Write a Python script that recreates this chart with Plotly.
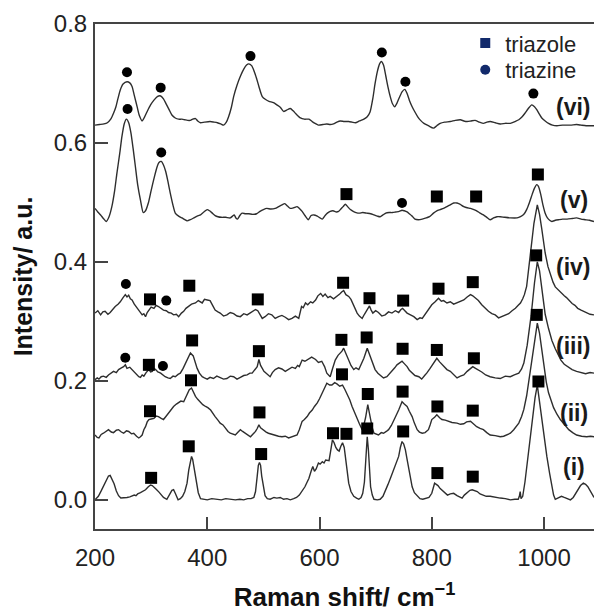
import plotly.graph_objects as go

# ---- Raman spectra (x: Raman shift / cm^-1, y: intensity / a.u.) ----
SPEC_I = [
    (200, 0.000), (206, 0.006), (211, 0.015), (216, 0.024), (220, 0.033), (224, 0.040), (227, 0.041),
    (230, 0.036), (234, 0.027), (238, 0.015), (242, 0.007), (246, 0.003), (252, 0.003), (257, 0.004),
    (262, 0.005), (266, 0.006), (270, 0.008), (273, 0.007), (276, 0.010), (281, 0.012), (286, 0.015),
    (290, 0.017), (295, 0.022), (299, 0.025), (302, 0.024), (305, 0.022), (309, 0.018), (314, 0.013),
    (318, 0.008), (322, 0.004), (328, 0.001), (331, 0.005), (334, 0.011), (337, 0.016), (340, 0.017),
    (343, 0.011), (346, 0.003), (348, 0.000), (352, 0.002), (356, 0.006), (360, 0.014), (364, 0.028),
    (367, 0.050), (370, 0.068), (372, 0.073), (374, 0.068), (377, 0.052), (380, 0.030), (384, 0.012),
    (388, 0.002), (393, 0.001), (400, 0.000), (408, 0.002), (417, 0.001), (425, 0.000), (433, 0.002),
    (441, 0.001), (450, 0.000), (458, 0.001), (465, 0.000), (472, 0.002), (478, 0.002), (483, 0.004),
    (486, 0.014), (489, 0.040), (491, 0.058), (493, 0.063), (495, 0.058), (497, 0.040), (500, 0.020),
    (503, 0.007), (507, 0.002), (512, 0.001), (519, 0.004), (524, 0.003), (530, 0.004), (536, 0.001),
    (542, 0.002), (548, 0.000), (554, 0.002), (559, 0.004), (564, 0.008), (569, 0.014), (574, 0.022),
    (578, 0.030), (581, 0.036), (585, 0.048), (588, 0.056), (591, 0.048), (594, 0.052), (598, 0.062),
    (601, 0.060), (605, 0.064), (608, 0.062), (611, 0.067), (614, 0.066), (617, 0.066), (620, 0.083),
    (623, 0.101), (626, 0.096), (629, 0.088), (632, 0.084), (635, 0.082), (638, 0.090), (641, 0.096),
    (644, 0.088), (646, 0.073), (649, 0.050), (652, 0.028), (656, 0.014), (661, 0.006), (666, 0.003),
    (670, 0.001), (674, 0.004), (677, 0.011), (680, 0.030), (682, 0.060), (684, 0.095), (685, 0.106),
    (687, 0.085), (689, 0.050), (691, 0.022), (694, 0.008), (697, 0.001), (703, 0.000), (708, 0.001),
    (713, 0.006), (718, 0.016), (722, 0.026), (727, 0.038), (732, 0.050), (736, 0.060), (741, 0.073),
    (744, 0.088), (747, 0.098), (750, 0.094), (753, 0.084), (756, 0.068), (759, 0.050), (762, 0.034),
    (765, 0.022), (769, 0.012), (774, 0.006), (779, 0.002), (784, 0.001), (790, 0.002), (795, 0.004),
    (800, 0.011), (803, 0.022), (805, 0.028), (808, 0.026), (811, 0.024), (815, 0.019), (819, 0.016),
    (824, 0.011), (828, 0.008), (833, 0.010), (839, 0.011), (845, 0.007), (850, 0.004), (854, 0.003),
    (858, 0.008), (863, 0.012), (868, 0.016), (872, 0.017), (876, 0.016), (881, 0.014), (886, 0.010),
    (891, 0.008), (897, 0.006), (904, 0.006), (913, 0.004), (922, 0.003), (931, 0.002), (940, 0.000),
    (948, 0.001), (954, 0.001), (956, 0.006), (957.5, 0.014), (959, 0.002), (962, 0.006), (966, 0.030),
    (969, 0.055), (972, 0.080), (976, 0.113), (980, 0.146), (984, 0.172), (988, 0.193), (992, 0.165),
    (996, 0.134), (1000, 0.103), (1005, 0.073), (1010, 0.044), (1014, 0.022), (1017, 0.008), (1020, 0.001),
    (1026, 0.003), (1031, 0.006), (1036, 0.004), (1042, 0.002), (1047, 0.000), (1052, 0.004), (1056, 0.010),
    (1060, 0.016), (1065, 0.024), (1070, 0.028), (1074, 0.026), (1078, 0.022), (1082, 0.016), (1086, 0.008),
    (1089, 0.004),
]

SPEC_II = [
    (200, 0.109), (204, 0.105), (207, 0.104), (211, 0.110), (215, 0.112), (220, 0.115), (224, 0.118),
    (229, 0.114), (233, 0.113), (238, 0.117), (242, 0.118), (247, 0.114), (251, 0.112), (256, 0.116),
    (260, 0.115), (265, 0.111), (269, 0.112), (274, 0.107), (278, 0.104), (281, 0.106), (284, 0.109),
    (287, 0.118), (290, 0.123), (293, 0.131), (296, 0.135), (300, 0.136), (305, 0.137), (309, 0.141),
    (313, 0.140), (318, 0.137), (322, 0.135), (327, 0.141), (331, 0.146), (336, 0.153), (340, 0.157),
    (345, 0.161), (349, 0.163), (353, 0.166), (358, 0.165), (361, 0.172), (364, 0.179), (368, 0.185),
    (372, 0.188), (375, 0.181), (379, 0.174), (383, 0.169), (388, 0.163), (392, 0.160), (397, 0.157),
    (401, 0.155), (406, 0.151), (410, 0.145), (414, 0.140), (419, 0.134), (423, 0.129), (428, 0.126),
    (432, 0.121), (437, 0.115), (441, 0.112), (446, 0.110), (450, 0.109), (455, 0.114), (459, 0.118),
    (463, 0.115), (468, 0.112), (472, 0.109), (477, 0.106), (482, 0.111), (486, 0.115), (489, 0.120),
    (492, 0.126), (495, 0.121), (500, 0.117), (505, 0.114), (509, 0.112), (515, 0.110), (521, 0.109),
    (527, 0.107), (533, 0.106), (539, 0.107), (545, 0.104), (552, 0.106), (560, 0.109), (564, 0.118),
    (569, 0.132), (573, 0.135), (578, 0.140), (582, 0.146), (587, 0.151), (591, 0.157), (596, 0.163),
    (600, 0.170), (604, 0.179), (609, 0.188), (613, 0.196), (618, 0.193), (622, 0.193), (627, 0.197),
    (631, 0.195), (636, 0.191), (641, 0.193), (645, 0.186), (649, 0.179), (654, 0.168), (658, 0.157),
    (662, 0.147), (667, 0.137), (671, 0.128), (676, 0.118), (679, 0.126), (682, 0.138), (686, 0.160),
    (688, 0.150), (691, 0.135), (694, 0.121), (697, 0.112), (701, 0.110), (705, 0.109), (710, 0.113),
    (714, 0.112), (719, 0.115), (723, 0.118), (728, 0.125), (732, 0.132), (736, 0.141), (741, 0.151),
    (744, 0.158), (747, 0.165), (751, 0.161), (756, 0.157), (760, 0.149), (765, 0.140), (769, 0.129),
    (774, 0.118), (778, 0.114), (783, 0.112), (788, 0.113), (794, 0.118), (797, 0.126), (800, 0.135),
    (805, 0.139), (809, 0.143), (814, 0.138), (818, 0.135), (824, 0.134), (830, 0.132), (836, 0.130),
    (845, 0.129), (851, 0.127), (857, 0.128), (862, 0.131), (869, 0.132), (875, 0.127), (880, 0.123),
    (886, 0.120), (892, 0.118), (898, 0.113), (904, 0.109), (913, 0.108), (922, 0.106), (928, 0.107),
    (934, 0.109), (940, 0.112), (946, 0.118), (951, 0.124), (955, 0.129), (960, 0.140), (964, 0.152),
    (969, 0.175), (973, 0.200), (977, 0.230), (981, 0.258), (985, 0.282), (988, 0.297), (992, 0.280),
    (996, 0.250), (1000, 0.222), (1004, 0.198), (1008, 0.180), (1013, 0.166), (1017, 0.155), (1023, 0.144),
    (1029, 0.135), (1036, 0.127), (1044, 0.118), (1051, 0.113), (1058, 0.109), (1067, 0.107), (1076, 0.106),
    (1083, 0.107), (1089, 0.106),
]

SPEC_III = [
    (200, 0.202), (204, 0.205), (207, 0.203), (211, 0.207), (215, 0.208), (220, 0.206), (224, 0.210),
    (229, 0.213), (233, 0.216), (238, 0.214), (242, 0.219), (247, 0.222), (251, 0.224), (254, 0.227),
    (257, 0.221), (262, 0.223), (266, 0.219), (271, 0.214), (275, 0.210), (278, 0.207), (281, 0.206),
    (284, 0.210), (287, 0.208), (291, 0.214), (296, 0.219), (299, 0.215), (302, 0.216), (305, 0.221),
    (308, 0.219), (312, 0.215), (317, 0.213), (321, 0.210), (325, 0.207), (330, 0.205), (334, 0.204),
    (339, 0.208), (343, 0.207), (348, 0.211), (352, 0.213), (357, 0.221), (361, 0.230), (366, 0.240),
    (370, 0.247), (375, 0.242), (378, 0.232), (382, 0.221), (386, 0.213), (391, 0.207), (395, 0.205),
    (400, 0.203), (405, 0.206), (411, 0.204), (417, 0.208), (423, 0.206), (429, 0.203), (435, 0.204),
    (441, 0.208), (447, 0.207), (453, 0.203), (459, 0.206), (465, 0.209), (471, 0.210), (476, 0.213),
    (480, 0.213), (485, 0.219), (489, 0.224), (492, 0.236), (495, 0.226), (498, 0.221), (501, 0.216),
    (506, 0.212), (512, 0.207), (516, 0.214), (521, 0.219), (527, 0.222), (533, 0.220), (539, 0.216),
    (545, 0.219), (551, 0.223), (557, 0.221), (561, 0.226), (564, 0.224), (569, 0.235), (574, 0.233),
    (581, 0.238), (586, 0.240), (593, 0.236), (598, 0.231), (604, 0.233), (609, 0.224), (613, 0.213),
    (619, 0.207), (623, 0.220), (628, 0.235), (633, 0.243), (637, 0.247), (640, 0.250), (643, 0.255),
    (647, 0.246), (652, 0.233), (656, 0.226), (661, 0.219), (665, 0.222), (670, 0.219), (674, 0.228),
    (679, 0.238), (685, 0.255), (688, 0.247), (691, 0.238), (695, 0.228), (699, 0.219), (704, 0.213),
    (708, 0.210), (714, 0.205), (720, 0.207), (725, 0.212), (729, 0.216), (734, 0.222), (738, 0.227),
    (743, 0.231), (747, 0.233), (751, 0.229), (756, 0.224), (760, 0.218), (765, 0.213), (770, 0.209),
    (777, 0.207), (782, 0.203), (788, 0.210), (791, 0.213), (797, 0.221), (803, 0.230), (806, 0.234),
    (809, 0.238), (814, 0.232), (821, 0.224), (827, 0.219), (833, 0.216), (839, 0.211), (845, 0.205),
    (851, 0.208), (857, 0.210), (863, 0.216), (869, 0.221), (873, 0.224), (878, 0.221), (884, 0.218),
    (889, 0.215), (896, 0.210), (904, 0.207), (913, 0.205), (922, 0.204), (931, 0.208), (940, 0.207),
    (947, 0.210), (955, 0.213), (960, 0.220), (964, 0.230), (970, 0.260), (977, 0.310), (983, 0.365),
    (988, 0.400), (992, 0.385), (996, 0.352), (1002, 0.312), (1008, 0.288), (1014, 0.268), (1020, 0.254),
    (1025, 0.243), (1030, 0.235), (1036, 0.228), (1042, 0.224), (1050, 0.219), (1058, 0.216), (1066, 0.214),
    (1074, 0.212), (1082, 0.214), (1089, 0.213),
]

SPEC_IV = [
    (200, 0.314), (205, 0.318), (210, 0.311), (214, 0.316), (218, 0.317), (223, 0.312), (227, 0.315),
    (232, 0.321), (236, 0.325), (241, 0.329), (245, 0.333), (250, 0.340), (254, 0.345), (257, 0.341),
    (260, 0.344), (263, 0.338), (266, 0.336), (270, 0.329), (275, 0.322), (279, 0.318), (284, 0.311),
    (287, 0.313), (290, 0.308), (293, 0.315), (296, 0.319), (300, 0.324), (305, 0.322), (309, 0.327),
    (313, 0.325), (318, 0.321), (322, 0.319), (327, 0.318), (331, 0.315), (336, 0.314), (340, 0.311),
    (345, 0.312), (349, 0.308), (354, 0.314), (358, 0.317), (362, 0.322), (367, 0.325), (372, 0.329),
    (379, 0.331), (384, 0.335), (391, 0.331), (395, 0.337), (400, 0.336), (405, 0.335), (410, 0.326),
    (414, 0.319), (419, 0.316), (423, 0.314), (429, 0.309), (435, 0.311), (441, 0.315), (447, 0.313),
    (453, 0.309), (459, 0.308), (465, 0.313), (471, 0.311), (476, 0.314), (481, 0.317), (486, 0.320),
    (490, 0.318), (494, 0.311), (498, 0.305), (503, 0.308), (509, 0.313), (515, 0.311), (521, 0.305),
    (527, 0.308), (533, 0.310), (539, 0.307), (545, 0.303), (551, 0.305), (557, 0.309), (563, 0.305),
    (568, 0.325), (571, 0.323), (575, 0.331), (579, 0.328), (584, 0.333), (588, 0.331), (593, 0.336),
    (597, 0.343), (602, 0.347), (606, 0.342), (610, 0.346), (615, 0.340), (619, 0.342), (625, 0.338),
    (631, 0.342), (636, 0.346), (640, 0.350), (643, 0.352), (647, 0.345), (652, 0.342), (656, 0.337),
    (659, 0.331), (663, 0.321), (667, 0.314), (671, 0.309), (676, 0.305), (680, 0.312), (683, 0.317),
    (689, 0.326), (692, 0.319), (695, 0.314), (700, 0.318), (705, 0.315), (711, 0.309), (717, 0.311),
    (723, 0.316), (729, 0.314), (735, 0.318), (741, 0.315), (745, 0.320), (748, 0.322), (752, 0.318),
    (756, 0.314), (762, 0.311), (768, 0.308), (774, 0.303), (779, 0.306), (783, 0.305), (788, 0.312),
    (791, 0.317), (796, 0.322), (800, 0.328), (806, 0.333), (809, 0.336), (812, 0.339), (817, 0.334),
    (821, 0.335), (827, 0.331), (833, 0.333), (839, 0.329), (845, 0.331), (851, 0.334), (857, 0.336),
    (863, 0.341), (869, 0.345), (873, 0.343), (878, 0.339), (883, 0.335), (889, 0.328), (895, 0.322),
    (901, 0.317), (907, 0.313), (913, 0.311), (919, 0.306), (925, 0.308), (931, 0.311), (937, 0.313),
    (943, 0.318), (949, 0.322), (954, 0.327), (958, 0.331), (962, 0.338), (965, 0.345), (969, 0.359),
    (975, 0.410), (982, 0.465), (988, 0.496), (992, 0.480), (996, 0.455), (1002, 0.415), (1007, 0.392),
    (1011, 0.380), (1016, 0.366), (1020, 0.358), (1025, 0.353), (1030, 0.349), (1036, 0.343), (1040, 0.340),
    (1045, 0.335), (1050, 0.330), (1055, 0.327), (1060, 0.322), (1066, 0.319), (1071, 0.317), (1076, 0.315),
    (1082, 0.312), (1089, 0.311),
]

SPEC_V = [
    (200, 0.490), (205, 0.484), (210, 0.479), (215, 0.473), (220, 0.468), (225, 0.476), (230, 0.493),
    (235, 0.520), (239, 0.549), (244, 0.582), (248, 0.611), (252, 0.632), (256, 0.640), (260, 0.634),
    (264, 0.617), (268, 0.590), (272, 0.560), (276, 0.530), (281, 0.504), (286, 0.483), (290, 0.486),
    (295, 0.499), (300, 0.520), (305, 0.540), (310, 0.558), (314, 0.567), (318, 0.569), (322, 0.563),
    (326, 0.552), (330, 0.535), (334, 0.516), (339, 0.495), (343, 0.482), (349, 0.477), (355, 0.474),
    (360, 0.471), (364, 0.469), (370, 0.471), (376, 0.474), (382, 0.477), (388, 0.479), (394, 0.484),
    (400, 0.488), (404, 0.486), (409, 0.482), (414, 0.478), (419, 0.476), (425, 0.475), (433, 0.475),
    (441, 0.474), (445, 0.477), (448, 0.479), (451, 0.474), (454, 0.472), (458, 0.478), (462, 0.482),
    (468, 0.481), (474, 0.481), (481, 0.480), (488, 0.481), (494, 0.485), (500, 0.488), (506, 0.490),
    (513, 0.489), (521, 0.490), (527, 0.493), (533, 0.496), (538, 0.498), (543, 0.494), (548, 0.490),
    (554, 0.491), (560, 0.493), (565, 0.489), (569, 0.485), (574, 0.478), (580, 0.471), (585, 0.478),
    (590, 0.479), (596, 0.477), (601, 0.474), (605, 0.472), (610, 0.478), (614, 0.482), (619, 0.485),
    (624, 0.486), (630, 0.484), (634, 0.485), (638, 0.489), (642, 0.493), (646, 0.497), (650, 0.493),
    (655, 0.488), (660, 0.485), (665, 0.483), (671, 0.482), (677, 0.483), (684, 0.482), (691, 0.481),
    (697, 0.479), (703, 0.477), (708, 0.476), (713, 0.479), (718, 0.482), (724, 0.483), (730, 0.483),
    (736, 0.484), (742, 0.485), (747, 0.487), (751, 0.486), (756, 0.484), (760, 0.481), (765, 0.477),
    (770, 0.472), (776, 0.471), (783, 0.472), (790, 0.474), (796, 0.476), (803, 0.482), (809, 0.486),
    (815, 0.488), (821, 0.490), (827, 0.493), (833, 0.496), (839, 0.499), (845, 0.499), (850, 0.497),
    (857, 0.493), (863, 0.491), (869, 0.490), (875, 0.488), (880, 0.486), (886, 0.482), (892, 0.479),
    (898, 0.475), (904, 0.471), (910, 0.474), (916, 0.476), (922, 0.476), (930, 0.475), (940, 0.474),
    (952, 0.474), (958, 0.476), (964, 0.480), (969, 0.488), (974, 0.500), (979, 0.514), (983, 0.524),
    (987, 0.530), (990, 0.527), (994, 0.514), (998, 0.496), (1002, 0.482), (1006, 0.474), (1010, 0.470),
    (1014, 0.468), (1020, 0.470), (1026, 0.471), (1033, 0.472), (1041, 0.472), (1050, 0.473), (1058, 0.474),
    (1066, 0.472), (1073, 0.471), (1081, 0.470), (1089, 0.468),
]

SPEC_VI = [
    (200, 0.630), (208, 0.631), (216, 0.632), (222, 0.634), (228, 0.640), (233, 0.650), (237, 0.660),
    (241, 0.675), (245, 0.689), (250, 0.699), (257, 0.703), (262, 0.701), (266, 0.695), (270, 0.680),
    (275, 0.661), (279, 0.646), (284, 0.637), (288, 0.643), (293, 0.653), (299, 0.664), (305, 0.672),
    (311, 0.678), (317, 0.679), (322, 0.674), (326, 0.667), (332, 0.656), (337, 0.647), (343, 0.642),
    (349, 0.640), (355, 0.640), (360, 0.639), (365, 0.638), (370, 0.638), (374, 0.640), (379, 0.641),
    (383, 0.637), (388, 0.634), (395, 0.635), (405, 0.636), (412, 0.635), (418, 0.634), (424, 0.632),
    (429, 0.630), (434, 0.635), (438, 0.644), (443, 0.660), (447, 0.678), (453, 0.697), (459, 0.712),
    (465, 0.724), (470, 0.731), (474, 0.733), (479, 0.730), (483, 0.722), (488, 0.708), (492, 0.695),
    (498, 0.678), (504, 0.673), (510, 0.670), (518, 0.668), (524, 0.664), (530, 0.660), (536, 0.653),
    (541, 0.655), (548, 0.658), (553, 0.654), (558, 0.649), (566, 0.642), (573, 0.640), (581, 0.640),
    (587, 0.636), (592, 0.633), (598, 0.630), (606, 0.631), (613, 0.632), (619, 0.631), (625, 0.632),
    (631, 0.635), (637, 0.637), (644, 0.636), (652, 0.636), (658, 0.635), (664, 0.634), (671, 0.637),
    (679, 0.640), (685, 0.644), (690, 0.652), (695, 0.675), (699, 0.700), (703, 0.720), (707, 0.733),
    (710, 0.737), (714, 0.731), (718, 0.713), (722, 0.694), (726, 0.678), (730, 0.666), (734, 0.661),
    (738, 0.667), (742, 0.676), (747, 0.686), (752, 0.690), (756, 0.683), (760, 0.672), (765, 0.661),
    (770, 0.652), (775, 0.644), (780, 0.638), (786, 0.633), (794, 0.629), (803, 0.625), (809, 0.629),
    (815, 0.633), (823, 0.635), (833, 0.636), (842, 0.638), (851, 0.639), (857, 0.637), (863, 0.636),
    (870, 0.637), (877, 0.638), (885, 0.635), (892, 0.633), (898, 0.635), (904, 0.636), (913, 0.634),
    (922, 0.632), (931, 0.633), (940, 0.633), (948, 0.636), (955, 0.639), (961, 0.644), (966, 0.650),
    (972, 0.658), (978, 0.664), (983, 0.661), (987, 0.656), (992, 0.648), (996, 0.642), (1002, 0.637),
    (1008, 0.633), (1015, 0.630), (1023, 0.629), (1033, 0.630), (1047, 0.630), (1058, 0.631), (1066, 0.630),
    (1075, 0.629), (1089, 0.629),
]

# ---- band assignments ----
TRIAZOLE_X = [300, 367, 496, 624, 648, 685, 749, 810, 873,
              298, 371, 493, 640, 686, 748, 810, 873, 990,
              296, 373, 492, 639, 684, 748, 809, 875, 987,
              298, 368, 490, 642, 689, 749, 812, 873, 986,
              648, 809, 879, 989]
TRIAZOLE_Y = [0.037, 0.090, 0.077, 0.112, 0.111, 0.120, 0.115, 0.045, 0.039,
              0.149, 0.201, 0.147, 0.211, 0.178, 0.182, 0.157, 0.150, 0.199,
              0.227, 0.268, 0.250, 0.269, 0.273, 0.254, 0.252, 0.238, 0.311,
              0.337, 0.360, 0.337, 0.365, 0.339, 0.335, 0.355, 0.366, 0.411,
              0.514, 0.510, 0.510, 0.547]
TRIAZINE_X = [254, 321, 255, 327, 258, 318, 747, 257, 317, 477, 711, 753, 981]
TRIAZINE_Y = [0.239, 0.225, 0.363, 0.335, 0.657, 0.584, 0.499,
              0.719, 0.693, 0.746, 0.752, 0.703, 0.683]

CURVE_LABELS = ["(i)", "(ii)", "(iii)", "(iv)", "(v)", "(vi)"]
LABEL_Y = [0.055, 0.146, 0.258, 0.392, 0.504, 0.661]

X_TICKS = [200, 400, 600, 800, 1000]
Y_TICKS = [0.0, 0.2, 0.4, 0.6, 0.8]

FONT = "Liberation Sans, Arial, sans-serif"
LINE = "#2e2e2e"
AXIS = "#444444"
NAVY = "#122a6b"

fig = go.Figure()

spectra = [(SPEC_I, "linear"), (SPEC_II, "linear"), (SPEC_III, "linear"),
           (SPEC_IV, "linear"), (SPEC_V, "spline"), (SPEC_VI, "spline")]
for pts, shape in spectra:
    xs = [p[0] for p in pts]
    ys = [p[1] for p in pts]
    fig.add_trace(go.Scatter(
        x=xs, y=ys, mode="lines",
        line=dict(color=LINE, width=1.4, shape=shape, smoothing=0.6 if shape == "spline" else None),
        showlegend=False, hoverinfo="skip"))

fig.add_trace(go.Scatter(
    x=TRIAZOLE_X, y=TRIAZOLE_Y, mode="markers",
    marker=dict(symbol="square", size=12, color="black"),
    showlegend=False, hoverinfo="skip"))
fig.add_trace(go.Scatter(
    x=TRIAZINE_X, y=TRIAZINE_Y, mode="markers",
    marker=dict(symbol="circle", size=10, color="black"),
    showlegend=False, hoverinfo="skip"))

# legend keys
fig.add_trace(go.Scatter(
    x=[None], y=[None], mode="markers", name="triazole",
    marker=dict(symbol="square", size=10, color=NAVY), legend="legend"))
fig.add_trace(go.Scatter(
    x=[None], y=[None], mode="markers", name="triazine",
    marker=dict(symbol="circle", size=10, color=NAVY), legend="legend2"))

for lab, ly in zip(CURVE_LABELS, LABEL_Y):
    fig.add_annotation(
        x=1053, y=ly, text=lab, showarrow=False, xanchor="center", yanchor="middle",
        font=dict(family=FONT, size=23, color="#1a1a1a", weight="bold"))

legend_common = dict(
    xanchor="left", yanchor="middle", bgcolor="rgba(0,0,0,0)", borderwidth=0,
    font=dict(family=FONT, size=22, color="#222222"), itemwidth=30)

fig.update_layout(
    width=594, height=612,
    margin=dict(l=95, r=0, t=24, b=83),
    paper_bgcolor="white", plot_bgcolor="white",
    font=dict(family=FONT, color="#222222"),
    legend=dict(x=0.742, y=0.962, **legend_common),
    legend2=dict(x=0.742, y=0.909, **legend_common),
    xaxis=dict(
        range=[200, 1089], tickmode="array", tickvals=X_TICKS,
        ticks="inside", ticklen=12, tickwidth=2, tickcolor=AXIS,
        showline=True, linecolor=AXIS, linewidth=2, mirror=True,
        showgrid=False, zeroline=False, ticklabelstandoff=6,
        tickfont=dict(family=FONT, size=24, color="#222222"),
        title=dict(text="Raman shift/ cm<sup>\u22121</sup>", standoff=24,
                   font=dict(family=FONT, size=26, color="#111111", weight="bold")),
    ),
    yaxis=dict(
        range=[-0.049, 0.8], tickmode="array", tickvals=Y_TICKS,
        tickformat=".1f",
        ticks="inside", ticklen=13, tickwidth=2, tickcolor=AXIS,
        showline=True, linecolor=AXIS, linewidth=2, mirror=False,
        showgrid=False, zeroline=False, ticklabelstandoff=1,
        tickfont=dict(family=FONT, size=24, color="#222222"),
        title=dict(text="Intensity/ a.u.", standoff=14,
                   font=dict(family=FONT, size=25, color="#111111", weight="bold")),
    ),
)

fig.write_html("out.html")
